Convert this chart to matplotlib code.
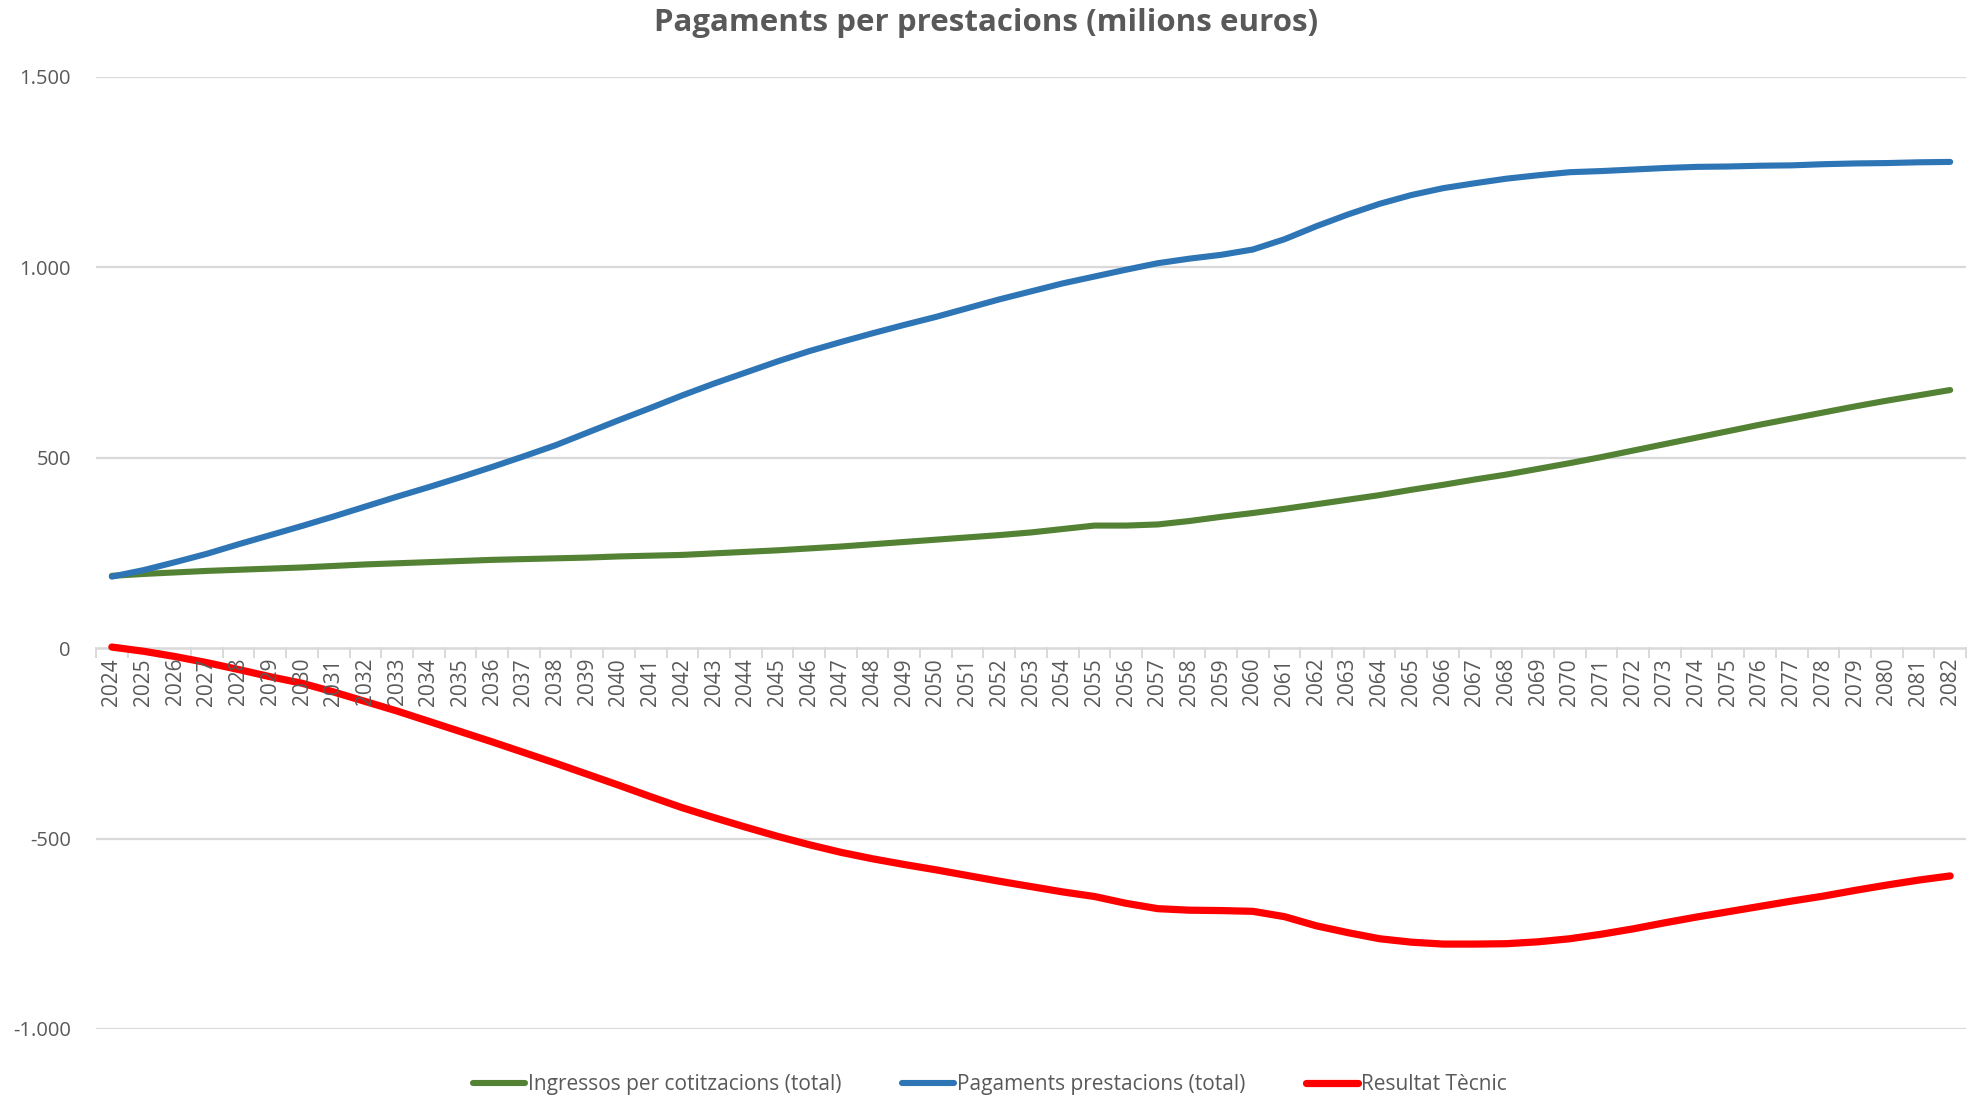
import matplotlib
matplotlib.use("Agg")
import matplotlib.pyplot as plt
from matplotlib.ticker import FuncFormatter
import numpy as np

years = [str(y) for y in range(2024, 2083)]

ingressos = [190, 195, 199, 203, 206, 209, 212, 216, 220, 223, 226, 229, 232, 234, 236, 238,
             241, 243, 245, 249, 253, 257, 262, 267, 273, 279, 285, 291, 297, 304, 313, 322,
             322, 325, 334, 345, 355, 366, 378, 390, 402, 416, 429, 443, 456, 471, 486, 502,
             519, 536, 553, 570, 587, 603, 619, 635, 650, 664, 678]

pagaments = [188, 205, 226, 248, 273, 297, 321, 346, 372, 398, 423, 449, 476, 504, 533, 566,
             599, 631, 664, 695, 724, 753, 780, 804, 827, 849, 870, 893, 916, 937, 958, 976,
             994, 1011, 1023, 1033, 1047, 1074, 1108, 1139, 1167, 1190, 1208, 1221, 1233, 1242,
             1250, 1253, 1257, 1261, 1264, 1265, 1267, 1268, 1271, 1273, 1274, 1276, 1277]

resultat = [3, -8, -22, -38, -56, -75, -92, -115, -140, -165, -192, -219, -246, -274, -302, -331,
            -360, -390, -419, -445, -470, -494, -516, -536, -553, -568, -582, -597, -612, -626,
            -640, -652, -670, -684, -688, -689, -691, -705, -729, -747, -763, -772, -777, -777,
            -776, -771, -763, -751, -737, -721, -706, -692, -678, -664, -651, -636, -622, -609,
            -598]

series_names = ["Ingressos per cotitzacions (total)", "Pagaments prestacions (total)", "Resultat Tècnic"]
colors = ["#548235", "#2E75B6", "#FF0000"]

text_color = "#595959"
grid_color = "#D9D9D9"
font = ["Open Sans", "DejaVu Sans"]

fig = plt.figure(figsize=(19.72, 10.95), dpi=100)
ax = fig.add_axes([96 / 1972, 1 - 1029 / 1095, (1966 - 96) / 1972, (1029 - 77) / 1095])

x = np.arange(len(years))
ax.plot(x, ingressos, color=colors[0], lw=4.4, solid_capstyle="round", solid_joinstyle="round",
        label=series_names[0], zorder=3)
ax.plot(x, pagaments, color=colors[1], lw=4.4, solid_capstyle="round", solid_joinstyle="round",
        label=series_names[1], zorder=4)
ax.plot(x, resultat, color=colors[2], lw=5.2, solid_capstyle="round", solid_joinstyle="round",
        label=series_names[2], zorder=5)

ax.set_xlim(-0.5, len(years) - 0.5)
ax.set_ylim(-1000, 1500)

for s in ax.spines.values():
    s.set_visible(False)

ax.set_yticks([-1000, -500, 0, 500, 1000, 1500])
for v in [-1000, -500, 500, 1000, 1500]:
    ax.axhline(v, color=grid_color, lw=1.6, zorder=1)
ax.axhline(0, color=grid_color, lw=1.8, zorder=2)

def fmt(v, pos):
    s = f"{abs(int(v)):,}".replace(",", ".")
    return ("-" if v < 0 else "") + s

ax.yaxis.set_major_formatter(FuncFormatter(fmt))
ax.tick_params(axis="y", length=0, pad=18, labelsize=14.5, labelcolor=text_color)
for lab in ax.get_yticklabels():
    lab.set_family(font)

ax.set_xticks([])
boundaries = np.arange(-0.5, len(years), 1.0)
for b in boundaries:
    ax.plot([b, b], [0, -22], color=grid_color, lw=1.4, zorder=2, clip_on=False)
for i, yr in enumerate(years):
    ax.annotate(yr, xy=(i, 0), xycoords="data", xytext=(0, -7), textcoords="offset points",
                rotation=90, ha="center", va="top", fontsize=15, color=text_color,
                family=font, zorder=6)

fig.suptitle("Pagaments per prestacions (milions euros)", x=0.5, y=0.993, va="top",
             fontsize=22.5, fontweight="bold", color=text_color, family=font)

leg = fig.legend(loc="lower center", bbox_to_anchor=(0.502, -0.017), ncol=3, frameon=False,
                 handlelength=2.5, columnspacing=2.9, handletextpad=0.15,
                 prop={"family": font, "size": 15})
for t in leg.get_texts():
    t.set_color(text_color)

fig.savefig("out.png", dpi=100, facecolor="white")
